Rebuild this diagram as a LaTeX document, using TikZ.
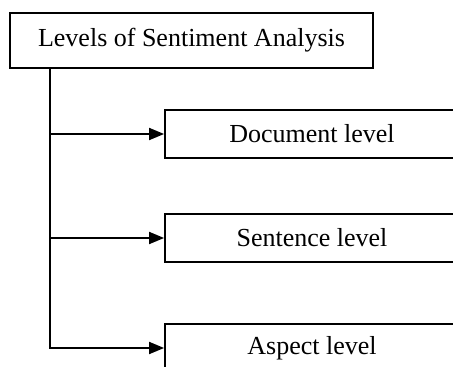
\documentclass[tikz,border=0pt]{standalone}
\usepackage{fontspec}
\setmainfont{Liberation Serif}
\usetikzlibrary{arrows.meta,positioning}

\begin{document}
\begin{tikzpicture}[
    x=1pt,y=1pt,
    >={Triangle[length=15pt,width=12pt]},
    every node/.style={font=\fontsize{26}{30}\selectfont},
    rootbox/.style={rectangle,draw,line width=1.8pt,
                  minimum width=363pt,minimum height=55pt,inner sep=0pt},
    levelbox/.style={rectangle,draw,line width=1.8pt,
                  minimum width=294pt,minimum height=48pt,inner sep=0pt},
    branch/.style={->,line width=1.8pt}
  ]
  \useasboundingbox (0,0) rectangle (453,367);
  \clip (0,0) rectangle (453,367);
  %% Top box
  \node[rootbox] (root) at (191.5,326.5) {Levels of Sentiment Analysis};
  %% Level boxes
  \node[levelbox] (doc)    at (312,233) {Document level};
  \node[levelbox] (sent)   at (312,129) {Sentence level};
  \node[levelbox] (aspect) at (312,19)  {Aspect level};
  %% Trunk and branches
  \coordinate (trunk) at ([xshift=41pt]root.south west);
  \draw[branch] (trunk) |- (aspect.west);
  \draw[branch] (trunk |- doc.west) -- (doc.west);
  \draw[branch] (trunk |- sent.west) -- (sent.west);
\end{tikzpicture}
\end{document}
